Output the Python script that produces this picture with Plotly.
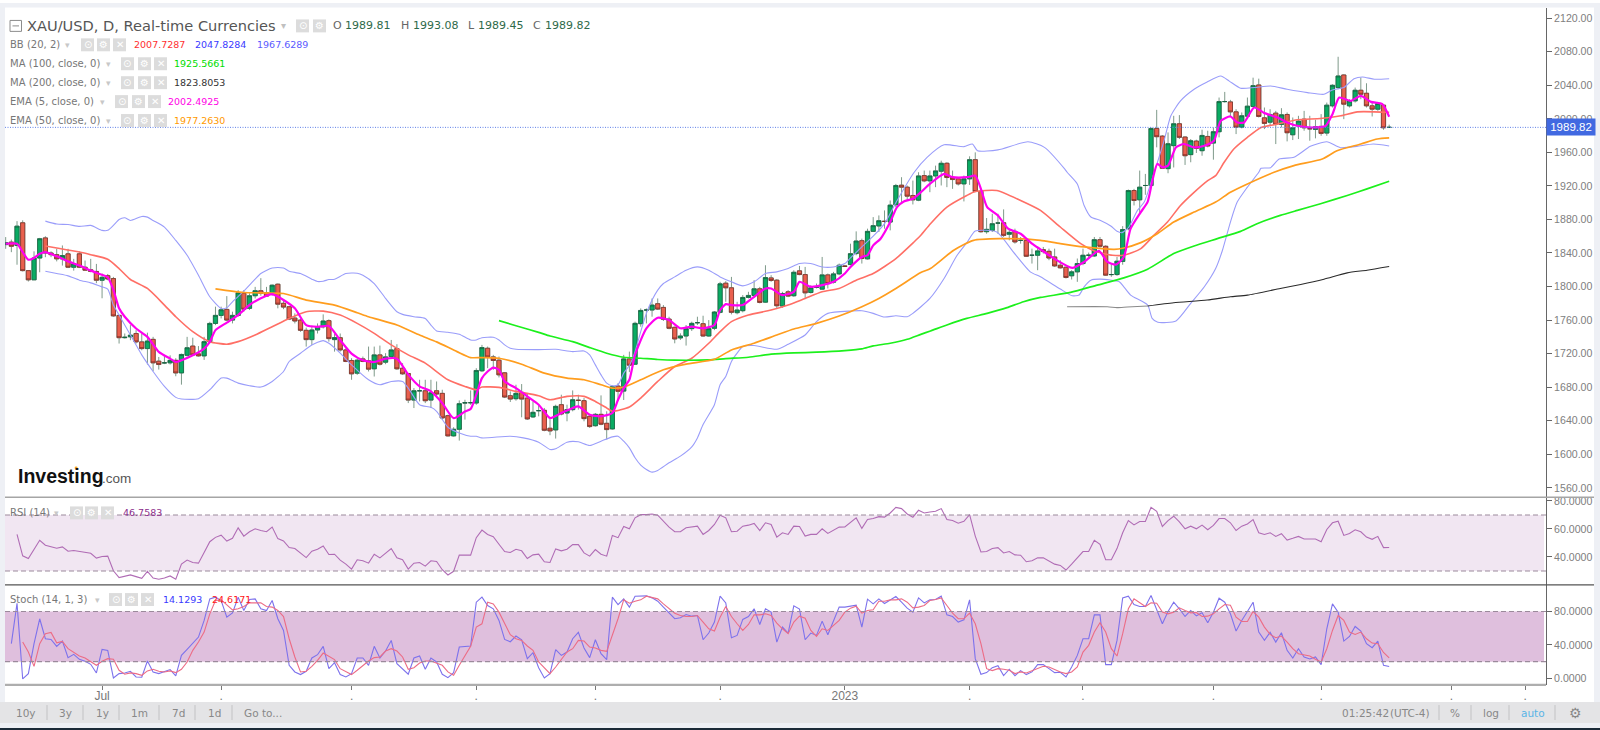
import plotly.graph_objects as go

W, H = 1600, 730

# ---------------------------------------------------------------- candles
opens = [1850,1853,1849,1876,1819,1808,1834,1858,1840,1838,1833,1839,1823,1839,1823,1820,1818,1807.5,1813,1809.5,
1765.6,1739,1740,1744,1734,1726,1737,1711,1709,1709,1712,1697,1718,1729,1719.7,1717.3,1734.3,1756,1765.6,1772.7,
1760,1765.6,1792,1774,1789,1795,1792.5,1790.5,1802.8,1780,1775.9,1762.4,1760,1747.8,1736.7,1748.2,1752,1759.3,1736.7,1739,
1724.4,1711.8,1696.7,1713.7,1711.4,1701.9,1718.5,1709.8,1716.5,1726,1702.6,1696.3,1664.6,1675.7,1675.7,1664.6,1675.7,1672.6,1646,1621.9,
1629.8,1661,1661.5,1661.1,1699.5,1726.4,1716.1,1712.2,1697.1,1669.8,1666.2,1673.8,1667,1644.5,1652,1652.4,1631,1629,1659.1,1649.2,
1653.2,1664.3,1663.9,1645.3,1634,1647.6,1636.9,1630.2,1681.3,1675.3,1713.7,1707.4,1755.7,1772,1772,1779.5,1775.1,1761.2,1751.4,1738.7,
1741,1749.8,1756.9,1755.7,1741,1750.2,1769.2,1804,1798.5,1768.8,1771.2,1787,1789.4,1797.3,1781.4,1810.3,1807.6,1776.7,1793.7,1789,
1818.7,1814.3,1792.9,1798.9,1796.9,1813.9,1805.2,1815.1,1824.6,1826.2,1839.3,1854.7,1833,1865.8,1872.2,1877.7,1876.9,1897.5,1920.9,1918.5,
1908.6,1903,1932.3,1926,1931.9,1937.5,1947,1930,1928.4,1922.4,1928.4,1951.3,1913.7,1865.4,1867,1875.7,1876.1,1862.3,1865.8,1855.1,
1855.1,1837.3,1837.3,1844,1842,1835.3,1825.4,1823,1812.8,1817.5,1827.4,1837.3,1836.5,1855.9,1848,1814.3,1814.3,1830,1869,1914.5,
1903.4,1920.5,1920.5,1988.5,1979.4,1940.6,1968,1994.1,1978.3,1957.3,1973.5,1962,1979,1971.1,1984.6,2020.6,2020.2,2008.3,1990.1,2003.2,
2014.7,2040.4,2001.2,1996,2006.8,1993.3,2005.2,1981,1991.7,1999.6,1988.2,1987.4,1991,1983,2015.5,2037.3,2052.3,2015.5,2021.4,2034.1,
2030.5,2015.5,2011.5,2016.3,1989.81]
highs = [1859,1856,1878,1879,1819,1842,1858,1860,1842,1845,1849,1845,1833,1842,1831,1833,1827,1815.5,1815,1811.5,
1766,1744,1754,1748,1744,1745,1740,1716,1718.5,1718,1714.5,1720,1740,1739,1729,1740,1758,1776,1776,1788.6,
1770,1795.7,1795.7,1792,1799.6,1810,1799.6,1802.4,1803.6,1783.8,1777,1768,1762,1751,1753.3,1756,1766.8,1760.9,1744,1744,
1726.4,1714.5,1714.5,1716.5,1728.4,1728.4,1729.6,1720.5,1736.3,1731.2,1708.6,1696.7,1678.9,1688.8,1688.8,1688.8,1686.8,1676.9,1647.2,1632.2,
1664.2,1665,1676.1,1702.6,1730.4,1728.4,1718.5,1716.5,1697.9,1675,1682.9,1683.7,1672.9,1663.1,1659.1,1655.2,1643.3,1659.1,1671,1659.1,
1676.1,1671,1667,1648,1649.2,1670.2,1651.2,1682.1,1684.8,1718.5,1722.4,1758.1,1773.9,1773.9,1785.8,1785.8,1777.9,1764,1752.1,1744.2,
1754.1,1758.1,1764,1765.2,1760,1770.8,1805.6,1806.4,1811.5,1781.8,1789.8,1793.7,1807.6,1799.6,1825.4,1813.5,1808.8,1793.7,1795.7,1819.4,
1824.6,1823.4,1801.6,1803.6,1835.3,1815.5,1817.5,1827.4,1825.4,1851.1,1865.8,1857.1,1869,1882.8,1884.8,1890.8,1902.6,1922.4,1930.4,1920.5,
1926.4,1936.3,1938.3,1938.3,1944.2,1950.1,1948.2,1938.3,1930.4,1932.3,1955.3,1960,1914.5,1881.7,1886.8,1886.8,1892,1869,1869,1859.1,
1857.1,1845.2,1847.2,1847.2,1845.2,1845.2,1831.4,1823.5,1819.5,1833.4,1845.2,1840.5,1859.1,1859.1,1849.2,1827.4,1835.3,1872,1915.7,1916.5,
1938.3,1934.3,1989.7,2010.7,1980.6,1983.8,2003.6,2004.4,1979,1975.9,1975.1,1987,1985.8,1989.7,2025.4,2032.1,2022.6,2011.5,2007.6,2025.4,
2049.1,2047.9,2013.5,2011.5,2009.5,2012.7,2007.6,2001.6,2003.6,2009.5,2003.6,1998.9,2005.6,2019.4,2041.2,2074,2053.1,2023.4,2037.3,2049.1,
2042.4,2019.4,2020.2,2017.5,1993.08]
lows = [1845,1841,1826,1818,1806,1808,1817,1835,1835,1830,1825,1822,1819,1822,1819,1817,1804,1786,1807.5,1764,
1732,1738,1736,1732,1724,1707,1699,1701,1707.5,1707,1693,1683,1716.5,1717.7,1716.5,1712.5,1732.3,1754,1762,1758.9,
1756,1764,1770,1772,1785.8,1789,1788,1789,1774,1773,1760,1756,1746,1728.4,1730.4,1744,1750,1734.3,1722.4,1722.4,
1709.8,1688.8,1694.7,1709.8,1698.7,1692.7,1705.8,1707.4,1714.5,1700.7,1694.7,1661,1655.1,1663,1661,1655.1,1667,1641.3,1621.1,1621.1,
1616.3,1641.3,1659,1659,1698,1702.7,1700.7,1691.6,1667,1662.3,1663.9,1644.1,1640.9,1643.3,1645.2,1627.4,1622.7,1618.7,1646.4,1639.3,
1651.2,1653.2,1639.3,1631.4,1633,1634.6,1617.6,1629.4,1663.9,1664.7,1697.9,1706.6,1752.1,1756,1764,1772,1758.9,1749,1732.3,1736.3,
1729.6,1747,1754.1,1740.3,1740.3,1748,1768,1781.8,1766.8,1766.8,1769.2,1785.8,1786.6,1779.9,1780.6,1805.6,1773.1,1774.7,1787.4,1787.8,
1813.5,1785.8,1791.7,1797.7,1796.5,1797.7,1803.6,1813.5,1823.4,1825.4,1837.3,1827.4,1832.2,1865,1865,1869,1867,1894.7,1900.7,1902.6,
1897.9,1901.8,1924.4,1912.5,1918.5,1920.5,1918.5,1916.5,1920.5,1901.5,1921.2,1912.5,1864.2,1863,1865,1863,1859.1,1855.1,1851.2,1851.2,
1835.3,1827.4,1819.5,1839.3,1831.4,1823.5,1821.5,1809.6,1808.4,1805.6,1825.4,1835,1835.3,1846.4,1812.8,1811.6,1812.8,1826,1867,1896.7,
1886.8,1909.4,1919.7,1966,1940.3,1935.1,1942,1975.9,1945,1948.2,1959.3,1956,1966,1951.3,1977.9,2019.4,2002.8,1981.8,1988.6,2001.6,
2013.5,2001.6,1987.8,1991.7,1969.9,1989.7,1973.1,1974.7,1975.9,1985.8,1973.9,1976.7,1979.8,1979.8,2013.5,2035.3,1999.6,2013.5,2019.4,2023.4,
2013.5,2002.8,2009.5,1987,1989.45]
closes = [1852.3,1848,1872,1819,1808,1834,1857,1840,1838,1833,1837,1823,1827,1823,1819.5,1818,1807.5,1811,1809,1765,
1739,1739.5,1742,1734,1726,1735,1709,1707,1709,1712,1697,1719,1727,1718.5,1717.3,1734.3,1756,1765.6,1772.3,1760,
1765.6,1792.5,1773,1789,1795,1792,1788.6,1801.6,1779,1775.5,1761.2,1758.9,1747.8,1736.7,1748.2,1751.7,1758.9,1737.9,1739.1,1724.4,
1710.6,1695.9,1712.2,1710.6,1701.5,1718.5,1707.4,1716.1,1724.4,1701.9,1695.9,1664.6,1675.7,1675.7,1663.8,1673.3,1671.8,1643.3,1621.9,1629.8,
1660.3,1661.5,1661.5,1699.9,1727.2,1716.1,1711.8,1694.7,1668.2,1665.8,1672.6,1665.8,1642.1,1650,1652,1628.6,1627.8,1657.1,1648,1653.2,
1665,1664.3,1642.5,1633,1647.6,1635.8,1629.4,1680.5,1675,1713.7,1706.2,1756.1,1771.5,1772,1777.9,1773.1,1760.9,1750.2,1737.5,1741,
1749.8,1756.1,1756.9,1741,1749.8,1769.6,1803.2,1798.5,1769.2,1772,1787,1789.4,1797.3,1781,1810.7,1807.2,1777.1,1791.7,1788.6,1817,
1814.3,1792.5,1798.5,1798.9,1813.9,1803.6,1815.1,1825.4,1824,1839.2,1854.3,1833.4,1865.8,1872.6,1878.5,1877.7,1897.1,1920.5,1918.5,1907.8,
1903.4,1931.9,1926,1931.9,1937.9,1947,1930,1927.6,1922.4,1928.4,1951.3,1913.3,1865.4,1868.2,1874.9,1875.7,1861,1864.6,1853.2,1855.1,
1836.1,1837.3,1842.5,1841.7,1834,1824.6,1822.3,1810.8,1817.5,1827.4,1837.3,1837.3,1855.9,1848,1813.6,1814.3,1830.2,1868,1914.5,1902.6,
1918.5,1920.5,1988.5,1978.7,1941,1970.3,1994.1,1977.9,1956,1973.9,1964.8,1980.2,1967.6,1984.6,2020.6,2020.6,2008.3,1990.1,2003.6,2015.1,
2039.6,2002.8,1994.5,2005.2,1993.3,2004.8,1983.4,1989.3,1997.3,1989.3,1988.2,1990.5,1982.6,2016.3,2040,2051.1,2017.5,2021.4,2034.1,2029.3,
2015.5,2011.5,2018.2,1989.3,1989.82]

# ---------------------------------------------------------------- overlays (sampled along each line)
bb_upper_x = [7,9,11,13,15,17,18,19,20,21,22,24,25,26,28,30,32,34,36,38,39,40,42,44,45,47,49,50,52,54,55,56,57,58,60,62,63,65,67,69,70,72,74,75,76,78,80,82,83,
84,86,87,88,89,90,94,97,100,102,103,104,105,106,107,108,109,110,111,112,113,114,115,116,118,120,122,124,126,128,130,132,134,136,138,140,142,144,146,148,149,151,
153,155,157,160.2,162.5,165.5,169,170.5,171.4,175,180.3,183.2,186.8,187.2,189,190.2,191.4,193.1,194.9,196,196.9,198.1,199.6,200.8,202.2,204.3,205.5,207.2,209.6,211.9,214.3,215.8,217.8,220.2,223.1,226,229.6,232.5,234,236,237.8,239.3,241.4,244]
bb_upper_y = [1878,1874.5,1874,1871.7,1872.9,1867,1867,1872.9,1880,1882,1878.8,1883.6,1882.8,1878.8,1870.9,1855,1837.3,1813.5,1787.8,1773.9,1774.7,1781.8,1794.5,1808.8,1815.5,1822.2,1822.2,1818.3,1815.5,1808.8,1806,1806.4,1808.3,1808.7,1815.5,1815.9,1813.5,1803.6,1785.8,1769.9,1766.8,1764,1762,1754.1,1747,1745.4,1743,1736.3,1736.3,
1739,1739.5,1736.3,1730.4,1726.4,1725.2,1724.8,1725.2,1722.4,1723.2,1718.5,1706.6,1694.7,1684.8,1681.7,1682.9,1696.7,1705.8,1722.4,1746.2,1768,1783.8,1795.7,1803.6,1811.5,1819.4,1823.4,1819.4,1811.5,1805.6,1800.8,1805.6,1815.5,1817.5,1821.4,1827.4,1827.4,1823.4,1823.4,1827.4,1834.1,1847.2,
1860,1875,1900,1936,1954,1969,1966.8,1970,1962,1963,1972.7,1966,1940,1936.3,1922.4,1896.7,1882.9,1878.9,1872.2,1865.8,1864.3,1871,1890.8,1900.7,1928.4,1973.9,2003.6,2021.4,2035.3,2044,2051,2045,2036.5,2037.3,2039.2,2035.3,2031.3,2029.3,2034.5,2037.3,2047.9,2049.9,2047.2,2047.83]

bb_lower_x = [7,9,11,13,15,17,18,19,20,22,24,26,28,30,31,34,36,38,39,41,43,45,47,49,50,52,54,56,57,59,61,64,66,68,70,71,73,75,76,78,80,82,83,
84,89,91.3,94,96,97,99,101,103,105,107,108,109,110,111,112,113,114,115,117,119,121,122,123,125,126,127,128,129,130,132,136,138,141,143,145,149,151,153,155,157,159,
160,163,165.5,167.8,169.6,171,174.8,177.7,180.7,182.5,186,188.1,189.3,190.2,191.4,193.1,196.4,197.2,198.4,201.4,202.2,203.2,206.4,209,211.4,213.4,214.6,216,217.2,219,221,221.4,223.1,224.6,227.2,230.1,233,235.4,238.3,241.2,244]
bb_lower_y = [1818.3,1815.5,1812.7,1807.6,1804.4,1799.6,1796.9,1777.9,1766,1742.2,1718.5,1698.7,1680.9,1667.8,1665.8,1666.2,1676.9,1690.8,1690.8,1684.8,1681.7,1680.1,1686.8,1698.7,1710.6,1720.5,1730.4,1735.5,1732.3,1720.5,1706.6,1688.8,1682.9,1686.8,1686.8,1678.9,1659.1,1655.9,1651.2,1632.2,1625.4,1621.5,1621.5,
1619.5,1621.5,1619.5,1614.4,1605.7,1606.5,1614.4,1614.8,1610.4,1615.6,1620.7,1621.5,1615.6,1607.6,1595.8,1587,1581.9,1578.7,1580.7,1589.8,1597.7,1608.8,1619.5,1635.4,1659.1,1682.9,1692.8,1710.6,1720.5,1728.4,1729.6,1725.2,1731.2,1742.2,1758.1,1768,1770.8,1771.2,1768,1763.6,1765.2,1764,
1768,1785.8,1809.6,1837.3,1853.1,1866.2,1865,1841.3,1817.5,1811.6,1797,1789,1789.8,1799.7,1807.6,1808.8,1805.6,1799.7,1789.8,1778,1762,1757.3,1759,1779.9,1799.7,1821.5,1843.3,1876.9,1900.7,1918.5,1936.3,1941,1941.8,1952.1,1954.1,1967.2,1972.7,1965.6,1967.2,1970,1967.63]

bb_mid_x = [7,9,13,15,18,20,22,25,28,30,33,36,39,41,44,47,50,53,56,59,62,65,68,71,74,78,81,83,84,87,90,94,96,99,102,104,106,107,110,112,115,118,121,124,126,128,131,135,138,141,144,147,150,153,157,160.2,
161.4,163.1,166,169.5,171,174.8,179,182.5,186,189.6,192,195.2,197.2,200.2,202.5,204.9,207.2,209.3,212,213.4,214.9,216.6,219,221.4,224.3,227.8,231.9,235.5,238.4,244]
bb_mid_y = [1848.3,1846,1841.2,1838,1832.5,1821.4,1808.4,1797.7,1777.9,1764,1746.2,1734.3,1731.2,1734.3,1742.2,1752.1,1762,1770,1770.7,1766,1756.1,1744.2,1730.4,1718.5,1708.6,1688.8,1680.9,1677,1680.1,1679.7,1675,1669.8,1665,1669,1669,1663,1655.2,1651.2,1656.3,1667,1686.8,1704.6,1714.5,1732.4,1746.2,1758.1,1766,1771.9,1777.9,1785.8,1793.7,1797.7,1807.6,1815.5,1833.3,1853.1,
1861.1,1874.9,1894.7,1908.6,1913.3,1914.5,1902.6,1890.8,1871,1851.2,1842.5,1837.3,1837.3,1845.2,1861.1,1876.9,1896.7,1910.6,1926.4,1932.3,1948.2,1964,1977.9,1989.7,1993.7,1998.9,2000.4,2003.6,2008.3,2007.73]

ma100_x = [87,90,94,96,100,103,106,109,112,115,118,124,127,131,135,139,143,148,151,153,156,159,161.4,163.1,166,169.5,173.1,176.6,179.5,182.5,187.8,192.5,197.2,201.4,206,209.6,213.7,217.8,220.7,224.8,227.8,231.9,236.6,240.1,244]
ma100_y = [1759.3,1753.3,1745.4,1741,1734.3,1727.2,1720.5,1715.7,1714.5,1713,1712.2,1712.6,1714.1,1715.7,1719.3,1720.9,1721.7,1723.6,1725.6,1729.2,1732.4,1737.1,1743,1747,1754.2,1762,1768,1774.8,1781.9,1787,1793,1801.7,1810.4,1820.7,1839.3,1848.4,1857.1,1865.8,1874.9,1884.8,1890.8,1898.7,1908.6,1916.5,1925.57]

ma200_x = [187.2,194.3,196,197.8,201.4,206,211.9,216,219,224.8,228.4,232.5,236.6,240.1,244]
ma200_y = [1775.9,1775.9,1774.8,1775.6,1776.8,1780.7,1783.9,1787.8,1789.8,1797.7,1802.5,1808.8,1816.3,1819.5,1823.81]

ema50_x = [37,42,49,53,58,62,64,69,73,76,79.6,82,84,87,91,95,99,102,105,107,109,112,116,120,125,128,132,136,139,143,147,151,154,157,161.4,163.1,167.2,170.7,175.4,180.7,182.5,186,190.2,195.5,197.2,200.2,203.1,206,209.6,213.4,216,219,223.7,227.2,232.2,234.8,239,241.9,244]
ema50_y = [1797.3,1792.9,1791.7,1783.8,1777.9,1768.8,1764,1754.1,1742.2,1734,1722.4,1715.3,1715.3,1714.5,1707.4,1696.7,1690.8,1688.8,1682.9,1678.9,1680,1688.8,1700.7,1707.4,1713.3,1724.4,1732.4,1742.2,1749.4,1756.1,1764.8,1775.9,1785.8,1797.7,1816.7,1821.5,1843.3,1855.1,1857.1,1856.3,1855.1,1851.2,1847.2,1844.4,1846,1852.4,1863,1876.9,1888.8,1900.7,1912.5,1922.4,1936.3,1944.2,1952.1,1962,1970,1975.9,1977.26]

ema5_x = [0,2,3,4,5,6,7,9,11,13,15,17,18,19,20,21,23,25,27,29,30,31,33,35,36,37,39,41,43,45,47,49,51,53,55,57,59,61,63,65,67,69,71,73,75,77,79,81,82,83,84,85,86,87,88,90,92,94,96,98,100,101,103,105,107,108,109,110,111,113,115,117,119,121,123,125,126,127,128,130,132,134,135,137,139,140,142,144,146,148,149,151,152,153,
154.3,156,157.2,158.4,160,161.4,163,165.5,167,169.6,171,172,173.1,175,176.8,179,181,182.5,184.9,188.1,190.2,192.8,194.3,195.8,197.2,198.4,200.2,201.4,202.2,203.1,204,205,206.4,207.8,209.6,211.4,213.1,214.3,216,217.2,218.4,220.2,222,224.3,226,227.8,230.7,232.8,234,235.2,237.2,239,240.8,242.8,244]
ema5_y = [1851,1851,1841,1832,1834,1839,1841,1836,1830,1825,1819,1814,1811,1796,1774,1764,1750,1740,1722,1714,1710,1712,1718,1726,1734,1748,1757,1766,1778,1786,1791,1784,1774,1754,1752,1753,1736,1720,1712,1710,1714,1714,1695,1681,1675,1661,1643,1651,1654,1671,1690.8,1698.7,1703.4,1700.7,1686.8,1678.9,1669,1659.1,1643.3,1649.2,1655.2,1657.1,1647.2,1645.3,1649.2,1665,1678.9,1688.8,1718.5,1750.2,1762.8,1760,1750.2,1752.1,1750.2,1754.1,1772,1779,1777.9,1777.9,1787.8,1797.7,1797.7,1789.8,1793.7,1805.6,1799.7,1801.6,1805.6,1815.5,1823.4,1835.3,1837.3,1849.1,
1857,1876.9,1894.7,1901.4,1904.6,1912.5,1922.4,1934.3,1930.4,1930.4,1932.3,1916.5,1894.7,1884.8,1869,1863,1851.2,1844.4,1833.4,1822.3,1829.4,1842.5,1829.4,1826.2,1835.3,1869,1888.8,1901,1925,1946.2,1942.2,1944.2,1966,1970,1966,1968,1973.9,1997.7,2002.8,1995.7,1995.7,2013.5,2006.8,2001.6,1995.7,1991.7,1989.7,1991.7,2005.6,2025.4,2021.4,2027.4,2020.2,2017.5,2002.49]

# ---------------------------------------------------------------- oscillators (one value per bar)
rsi_start = 2
rsi = [56.1,40.8,38.9,45.5,51.9,48.4,47.4,46.2,47.2,44.1,44.6,43.9,43.4,42.7,39.2,40.4,40.6,30.2,25.3,26,27.2,26,24.8,29.8,25,24.1,25,26.5,24.1,34.9,37.8,36.1,35.6,43.2,50.9,54,55.6,51.4,53.3,60.8,54.9,58,60.1,58.9,58,61.3,53.1,51.4,46.7,46,42.9,39.6,44.1,45.5,47.9,41.8,42,37.8,34.9,31.4,38,37.3,35.6,42,39.4,42.7,46,39.4,38,31.4,35.6,36.1,33.5,37.3,36.8,30.9,27.2,29.8,41.3,41.3,41.3,53.8,
59.2,56.1,54.5,49.1,43.9,43.2,45.5,44.4,38.9,41.5,42,36.6,36.1,45.8,44.4,45.5,48.8,48.8,42.9,40.6,45.3,42,40.6,55.4,53.8,61.8,60.1,67.9,70.2,70.2,70.7,69.8,65.5,61.3,58,58,60.8,61.5,62,56.1,58.9,63.2,69.8,67.9,58,58.4,62,62.7,63.9,58.9,64.4,63.2,54.2,57.3,56.1,62,61.8,54.9,56.1,56.1,60.1,56.8,59.2,61.3,61.5,64.6,67.9,60.4,66.7,67.4,68.8,68.4,71.4,75.4,74.5,70.7,68.4,73.3,71.4,72.1,72.6,74.5,66.7,66,64.1,
65.5,70.2,54.9,43.6,43.9,46,46.7,42.9,43.9,41.5,41.3,36.6,37.3,39.4,39.4,37.3,34.9,34,30.7,34.9,39.6,43.9,43.9,51.9,49.1,38,38,46,57.3,66,62.9,65.3,65.3,75.4,72.6,61.8,66,69.1,65.1,60.1,62,60.1,62.7,59.4,62.5,67.4,67.4,64.4,58.9,62,63.6,66.7,57.3,56.1,57.3,54.7,56.6,52.1,53.3,54.7,52.8,52.8,52.8,50.9,59.6,64.4,65.5,55.4,56.8,59.4,58,54.2,52.6,54.7,46.7,46.76]

stoch_k_start = 1
stoch_k = [41.5,89.9,-0.7,5.7,41.5,71.3,47.4,46.6,38.3,44.6,24.8,28.7,22.8,20.4,16.8,6.5,34.7,33.5,0.5,5.7,6.5,8.5,1.7,1.3,20.8,7.7,5.7,8.1,10.5,2.9,27.5,34.7,41.5,49.4,69.3,95.1,97.1,93.1,73.2,78.4,97.1,81.2,94.3,95.1,83.2,81.2,93.1,71.3,57.3,15.6,7.7,4.5,8.5,24.4,28.3,38.3,11.6,18.8,4.5,1.7,5.7,24.4,24.4,15.6,38.3,24.4,32.7,45.4,17.6,11.6,4.9,24.4,26.7,10.9,24.4,19.6,4.9,0.9,6.9,37.5,38.3,38.7,91.1,
97.1,87.2,83.2,69.3,46.6,43.8,50.6,46.2,23.6,30.7,12.8,0.5,5.7,34.3,27.5,31.5,47.4,55,36.3,24.8,46.2,29.5,22.4,97.1,88.3,95.1,85.2,98.3,98.7,98.7,96.3,92.3,85.2,78,71.3,72.4,76.4,74.4,75.2,46.2,54.2,67.3,98.3,90.3,48.6,51.4,70.5,74,83.2,64.5,83.2,79.2,43.4,61.3,54.2,86.8,82.8,46.2,54.2,51.4,68.5,52.2,68.5,85.2,85.2,86,87.5,61.3,94.7,89.1,95.1,89.5,93.9,97.9,91.1,84,79.2,96.3,90.3,93.9,94.3,98.3,76,74,67.3,
70,93.9,23.6,4.9,6.9,12.8,15.2,3.3,10.9,3.3,9.3,4.5,7.7,16.4,16.4,11.6,6.9,7.3,1.7,13.6,27.5,47.4,47.4,76,76,16.4,16.4,45.4,96.3,98.3,88.3,86,86,99.1,83.2,65.3,80,91.1,83.2,74,81.2,74.8,78.4,66.5,79.2,95.9,91.1,77.2,56.6,69.3,80,91.1,55.4,45.4,55,43.4,54.6,33.5,24.4,35.5,25.6,23.2,25.6,16.4,59.3,89.1,79.2,44.6,50.2,62.1,56.6,41.5,36.7,44.6,15.6,14.13]

stoch_d_start = 3
stoch_d = [43.4,31.5,14.4,41.5,53.4,55,42.6,44.2,35.5,31.5,26.7,24.4,20.4,15.6,20.4,23.6,22.8,9.7,4.9,6.5,5.7,3.7,8.9,10.9,8.5,7.7,8.9,6.9,10.9,19.6,33.5,43.4,55.4,77.2,93.1,93.9,87.9,82,83.2,86,90.3,90.3,90.3,86,85.2,81.2,74,47.4,25.6,7.7,8.5,14.4,21.6,30.3,26.7,22.4,11.6,8.5,4.5,9.7,15.6,20.8,24.8,25.6,32.7,35.5,32.7,25.6,10.9,12.8,18.4,20.8,20.8,18.4,15.6,7.7,3.7,15.6,27.5,38.3,61.3,
65.3,91.1,89.1,79.2,65.3,52.2,47.4,45.4,38.7,33.5,19.6,12.8,5.7,13.6,22.8,31.5,35.5,45.4,44.6,37.5,36.3,33.5,32.3,51.4,71.3,93.9,89.9,92.3,93.9,98.3,97.1,95.1,89.1,83.2,78,75.2,74,74,75.2,67.3,59.3,56.6,73.2,86,74,65.3,57.3,64.5,76,76,77.2,75.2,66.1,59.3,53.4,67.3,74.4,72,57.3,50.2,59.3,57.3,63.3,69.3,79.2,84,86.4,78,81.2,82,92.3,92.3,93.9,93.9,95.1,91.1,84.4,85.2,87.2,93.1,94.3,96.3,87.2,78,71.3,
71.3,78,65.3,41.5,11.6,9.3,11.6,10.9,9.7,5.7,7.7,6.5,8.9,11.6,14.4,13.6,10.5,7.7,5.7,7.7,13.6,31.5,39.5,55.4,66.5,55.4,35.5,26.7,53.4,83.2,95.1,90,86,90.3,89.9,79.2,77.2,79.2,84.4,81.2,78.4,78.8,74,74.4,77.2,83.2,88.3,87.5,73.2,68.1,68.1,80,73.2,61.3,52.6,48.6,50.6,43.4,35.5,29.5,28.3,26.7,22.8,19.6,35.5,57.3,75.2,69.3,55.4,52.6,55.4,47.4,42.2,41.5,31,24.62]

# ---------------------------------------------------------------- axis labels
price_ticks = [1560,1600,1640,1680,1720,1760,1800,1840,1880,1920,1960,2000,2040,2080,2120]
rsi_ticks = [40,60,80]
stoch_ticks = [0,40,80]
month_bars = [17,38,61,83,104,126,148,170,190,213,232,255,268]
month_labels = ["Jul",".",".",".",".",".","2023",".",".",".",".",".","."]
last_price = 1989.82
rsi_band = (30,70)
stoch_band = (20,80)

# ---------------------------------------------------------------- pixel helpers
def px(x): return x / W
def py(y): return 1 - y / H

PL, PR = 5, 1546
MAIN_T, MAIN_B = 5, 496.3
RSI_B = 584.3
STO_B = 684.7

bars = list(range(len(closes)))
xrange_ = [-0.12, 271.66]
SANS = "DejaVu Sans"
ARIAL = "Liberation Sans"

fig = go.Figure()

def line(x, y, color, width, xa="x", ya="y", smooth=False):
    ln = dict(color=color, width=width)
    if smooth:
        ln.update(shape="spline", smoothing=0.6)
    fig.add_trace(go.Scatter(x=x, y=y, mode="lines", xaxis=xa, yaxis=ya, hoverinfo="skip", line=ln))

line(bb_upper_x, bb_upper_y, "#9a9dfa", 1.1, smooth=True)
line(bb_lower_x, bb_lower_y, "#9a9dfa", 1.1, smooth=True)
line(bb_mid_x, bb_mid_y, "#ff6f66", 1.6, smooth=True)
line(ma100_x, ma100_y, "#1cf01c", 1.7, smooth=True)
line(ma200_x[:5], ma200_y[:5], "#8a8a8a", 1.1, smooth=True)
line(ma200_x[4:], ma200_y[4:], "#2a2a2a", 1.1, smooth=True)
line(ema50_x, ema50_y, "#ff9d1e", 1.7, smooth=True)
line(ema5_x, ema5_y, "#ff00f0", 2.2, smooth=True)

# wicks first, bodies over them
fig.add_trace(go.Candlestick(x=bars, open=opens, high=highs, low=lows, close=closes,
    increasing=dict(line=dict(color="#7f9a8a", width=1), fillcolor="#7f9a8a"),
    decreasing=dict(line=dict(color="#7f9a8a", width=1), fillcolor="#7f9a8a"),
    hoverinfo="skip", xaxis="x", yaxis="y", whiskerwidth=0))
fig.add_trace(go.Candlestick(x=bars, open=opens, close=closes,
    high=[max(o, c) for o, c in zip(opens, closes)],
    low=[min(o, c) for o, c in zip(opens, closes)],
    increasing=dict(line=dict(color="#14603f", width=0.7), fillcolor="#0aab63"),
    decreasing=dict(line=dict(color="#7a2a22", width=0.7), fillcolor="#e9604e"),
    hoverinfo="skip", xaxis="x", yaxis="y", whiskerwidth=0))

rsi_x = [rsi_start + i for i in range(len(rsi))]
line(rsi_x, rsi, "#b06cb5", 1.1, "x2", "y2")
k_x = [stoch_k_start + i for i in range(len(stoch_k))]
d_x = [stoch_d_start + i for i in range(len(stoch_d))]
line(k_x, stoch_k, "#7d72ec", 1.1, "x3", "y3")
line(d_x, stoch_d, "#ec6c86", 1.1, "x3", "y3")

shapes = []
def rect(x0, y0, x1, y1, color, layer="below"):
    shapes.append(dict(type="rect", xref="paper", yref="paper", x0=px(x0), x1=px(x1), y0=py(y0), y1=py(y1),
                       fillcolor=color, line=dict(width=0), layer=layer))
def hline(x0, x1, y, color, width=1):
    shapes.append(dict(type="line", xref="paper", yref="paper", x0=px(x0), x1=px(x1), y0=py(y), y1=py(y),
                       line=dict(color=color, width=width), layer="above"))

rect(0, 0, W, 4.5, "#eef0f5")
rect(0, 0, PL, H, "#eef0f5")
rect(1594, 0, W, H, "#eef0f5")
rect(0, 702, W, 723, "#e4e4e6")
rect(0, 723, W, 728, "#eef0f5")
rect(0, 728, W, H, "#1b2a38")

# oscillator bands
for band, axx, axy, fill in ((rsi_band, "x2", "y2", "#f1e6f2"), (stoch_band, "x3", "y3", "#dfbfdd")):
    shapes.append(dict(type="rect", xref=axx + " domain", yref=axy, x0=0, x1=0.9987, y0=band[0], y1=band[1],
                       fillcolor=fill, line=dict(width=0), layer="below"))
    for level in band:
        shapes.append(dict(type="line", xref=axx + " domain", yref=axy, x0=0, x1=1, y0=level, y1=level,
                           line=dict(color="#9b8a9b", width=1.1, dash="5px,3px"), layer="above"))

# current-price dotted line
shapes.append(dict(type="line", xref="x domain", yref="y", x0=0, x1=1, y0=last_price, y1=last_price,
                   line=dict(color="#5f80e8", width=1, dash="1px,1.5px"), layer="above"))

hline(PL, 1594, MAIN_B, "#a5a5a5", 1.4)
hline(PL, 1594, RSI_B, "#555555", 1.4)
hline(PL, PR, STO_B, "#aeaeae", 2.2)

# logo dot
shapes.append(dict(type="circle", xref="paper", yref="paper", x0=px(74.6), x1=px(77.6), y0=py(465.5), y1=py(468.5),
                   fillcolor="#f5a623", line=dict(width=0), layer="above"))

# toolbar separators
for sx in (47, 83, 119, 159, 195, 232, 1439, 1471, 1509, 1555):
    shapes.append(dict(type="line", xref="paper", yref="paper", x0=px(sx), x1=px(sx), y0=py(705), y1=py(720),
                       line=dict(color="#c2c2c4", width=1), layer="above"))

anns = []
def text(x, y, s, color="#666666", size=11, anchor="left", family=SANS):
    anns.append(dict(xref="paper", yref="paper", x=px(x), y=py(y), text=s, showarrow=False, xanchor=anchor,
                     yanchor="middle", font=dict(family=family, size=size, color=color), borderpad=0, borderwidth=0))

def icons(xs, y):
    for x, glyph in zip(xs, ("⊙", "⚙", "✕")):
        rect(x, y - 6.5, x + 13, y + 6.5, "#dcdcdc", "above")
        text(x + 6.5, y, glyph, "#ffffff", 10, "center")

# header
shapes.append(dict(type="rect", xref="paper", yref="paper", x0=px(10), x1=px(21.5), y0=py(17.5), y1=py(28.5),
                   line=dict(color="#8c8c8c", width=1), layer="above"))
hline(12.5, 19, 23, "#8c8c8c", 1)
text(27, 23, "XAU/USD, D, Real-time Currencies", "#555555", 14.6)
text(283, 23, "▾", "#c0c0c0", 10, "center")
icons((296, 313), 23)
text(333, 23, "O", "#666666")
text(345, 23, "1989.81", "#2e6a4a")
text(401, 23, "H", "#666666")
text(413, 23, "1993.08", "#2e6a4a")
text(468, 23, "L", "#666666")
text(478, 23, "1989.45", "#2e6a4a")
text(533, 23, "C", "#666666")
text(545, 23, "1989.82", "#2e6a4a")

rows = [
    ("BB (20, 2)", 42, 67, (81, 97, 113), [(134, "2007.7287", "#ff3030"), (195, "2047.8284", "#3a3aff"), (257, "1967.6289", "#5a5aff")]),
    ("MA (100, close, 0)", 61, 108, (121, 138, 154), [(174, "1925.5661", "#00dd00")]),
    ("MA (200, close, 0)", 80, 108, (121, 138, 154), [(174, "1823.8053", "#333333")]),
    ("EMA (5, close, 0)", 99, 102, (115, 132, 148), [(168, "2002.4925", "#ff00e6")]),
    ("EMA (50, close, 0)", 118, 108, (121, 138, 154), [(174, "1977.2630", "#ff9900")]),
    ("RSI (14)", 512, 56, (70, 85, 101), [(123, "46.7583", "#8b2d8b")]),
    ("Stoch (14, 1, 3)", 599, 97, (109, 125, 141), [(163, "14.1293", "#3a3aff"), (212, "24.6171", "#ff2020")]),
]
for label, y, caret, ix, vals in rows:
    text(10, y, label, "#777777", 10)
    text(caret, y, "▾", "#c8c8c8", 9, "center")
    icons(ix, y)
    for vx, v, c in vals:
        text(vx, y, v, c, 9.5)

# logo
text(17.5, 475, "<b>Investing</b>", "#111111", 19.5, family=ARIAL)
text(102, 477, ".com", "#555555", 13.5, family=ARIAL)

# price tag
anns.append(dict(xref="paper", yref="paper", x=px(1570.5), y=py(125), text="1989.82", showarrow=False,
                 font=dict(family=ARIAL, size=11.5, color="#ffffff"), bgcolor="#4169e1", width=48, height=15.5,
                 borderpad=0, xanchor="center", yanchor="middle"))

# toolbars
for lx, s in ((26, "10y"), (65, "3y"), (102, "1y"), (139, "1m"), (178, "7d"), (214, "1d"), (263, "Go to...")):
    text(lx, 712.5, s, "#888888", 10.5, "center")
text(1365, 712.5, "01:25:42", "#888888", 10.5, "center")
text(1409, 712.5, "(UTC-4)", "#888888", 10.5, "center")
text(1455, 712.5, "%", "#888888", 10.5, "center")
text(1491, 712.5, "log", "#888888", 10.5, "center")
text(1533, 712.5, "auto", "#5ab4e6", 10.5, "center")
text(1575, 712.5, "⚙", "#888888", 14, "center")

def xaxis(domain_anchor, labels=False):
    d = dict(domain=[px(PL), px(PR)], range=xrange_, anchor=domain_anchor, showgrid=False, zeroline=False,
             rangeslider=dict(visible=False), showline=False, fixedrange=True)
    if labels:
        d.update(tickmode="array", tickvals=month_bars, ticktext=month_labels, ticks="outside", ticklen=4,
                 tickcolor="#777777", tickwidth=1, ticklabelstandoff=-4,
                 tickfont=dict(family=ARIAL, size=12, color="#777777"))
    else:
        d.update(showticklabels=False, ticks="")
    return d

def yaxis(bottom, top, rng, anchor, ticks, fmt):
    return dict(domain=[py(bottom), py(top)], range=rng, anchor=anchor, side="right", showgrid=False, zeroline=False,
                showline=True, linecolor="#666666", linewidth=1, mirror=False, ticks="outside", ticklen=5,
                tickcolor="#666666", tickwidth=1, tickmode="array", tickvals=ticks, tickformat=fmt,
                tickfont=dict(family=ARIAL, size=10.6, color="#808080"), fixedrange=True)

fig.update_layout(
    width=W, height=H, margin=dict(l=0, r=0, t=0, b=0), autosize=False,
    paper_bgcolor="#ffffff", plot_bgcolor="rgba(0,0,0,0)", showlegend=False, hovermode=False,
    boxgap=0.26, boxgroupgap=0,
    xaxis=xaxis("y"), xaxis2=xaxis("y2"), xaxis3=xaxis("y3", True),
    yaxis=yaxis(MAIN_B, MAIN_T, [1548.7, 2132.2], "x", price_ticks, ".2f"),
    yaxis2=yaxis(RSI_B, MAIN_B, [20.1, 82.6], "x2", rsi_ticks, ".4f"),
    yaxis3=yaxis(STO_B, RSI_B, [-7.8, 111.8], "x3", stoch_ticks, ".4f"),
    shapes=shapes, annotations=anns,
)

fig.write_html("out.html", config=dict(displayModeBar=False),
               post_script="document.body.style.margin='0';document.documentElement.style.overflow='hidden';")
